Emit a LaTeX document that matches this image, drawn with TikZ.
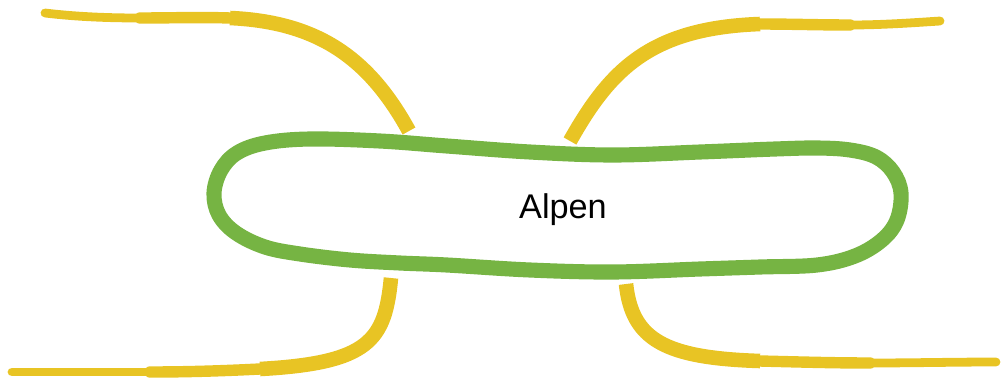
\documentclass[tikz,border=0pt]{standalone}
\usepackage{fontspec}
\setmainfont{Liberation Sans}
\definecolor{branchyellow}{RGB}{232,196,36}
\definecolor{topicgreen}{RGB}{118,180,67}
\tikzset{
  branch/.style={draw=branchyellow, line width=8.3pt},
  midtwig/.style={draw=branchyellow, line width=6.5pt, line cap=round},
  twig/.style={draw=branchyellow, line width=5pt, line cap=round},
  topic/.style={draw=topicgreen, line width=8.6pt},
}
\begin{document}
\begin{tikzpicture}[x=0.02cm, y=-0.02cm]
\useasboundingbox (0,0) rectangle (1001,379);
\draw[topic] plot[smooth cycle, tension=0.6] coordinates {(214,193) (221,170) (237,153) (265,143) (310,139) (380,141) (447,146) (530,152) (613,155) (700,152) (775,149) (817,148) (850,150) (876,157) (893,172) (901,193) (897,220) (882,240) (855,256) (817,265) (760,267) (700,269) (613,272) (530,270) (447,265) (400,263) (350,260) (300,254) (265,247) (236,233) (219,215)};
\node[anchor=base, font=\fontsize{19.5}{24}\selectfont] (alpen) at (563,218) {Alpen};
\coordinate (nw-root) at (409,131);
\coordinate (nw-bend) at (230,18);
\coordinate (nw-mid) at (140,18);
\coordinate (nw-tip) at (45,13);
\coordinate (ne-root) at (570,141);
\coordinate (ne-bend) at (760,24);
\coordinate (ne-mid) at (850,25);
\coordinate (ne-tip) at (940,21);
\coordinate (sw-root) at (391,278);
\coordinate (sw-bend) at (260,369);
\coordinate (sw-mid) at (150,372);
\coordinate (sw-tip) at (12,372);
\coordinate (se-root) at (626,284);
\coordinate (se-bend) at (760,361);
\coordinate (se-mid) at (870,363);
\coordinate (se-tip) at (996,362);
\draw[branch] (nw-root) .. controls (370,60) and (320,22) .. (nw-bend);
\draw[midtwig] (nw-bend) .. controls (200,17) and (170,18) .. (nw-mid);
\draw[twig] (nw-mid) .. controls (100,18) and (70,16) .. (nw-tip);
\draw[branch] (ne-root) .. controls (610,70) and (650,28) .. (ne-bend);
\draw[midtwig] (ne-bend) .. controls (790,24) and (820,25) .. (ne-mid);
\draw[twig] (ne-mid) .. controls (880,25) and (910,23) .. (ne-tip);
\draw[branch] (sw-root) .. controls (385,340) and (370,363) .. (sw-bend);
\draw[midtwig] (sw-bend) .. controls (220,371) and (185,372) .. (sw-mid);
\draw[twig] (sw-mid) .. controls (100,372) and (50,372) .. (sw-tip);
\draw[branch] (se-root) .. controls (632,340) and (665,358) .. (se-bend);
\draw[midtwig] (se-bend) .. controls (800,362) and (835,363) .. (se-mid);
\draw[twig] (se-mid) .. controls (910,363) and (955,362) .. (se-tip);
\end{tikzpicture}
\end{document}
